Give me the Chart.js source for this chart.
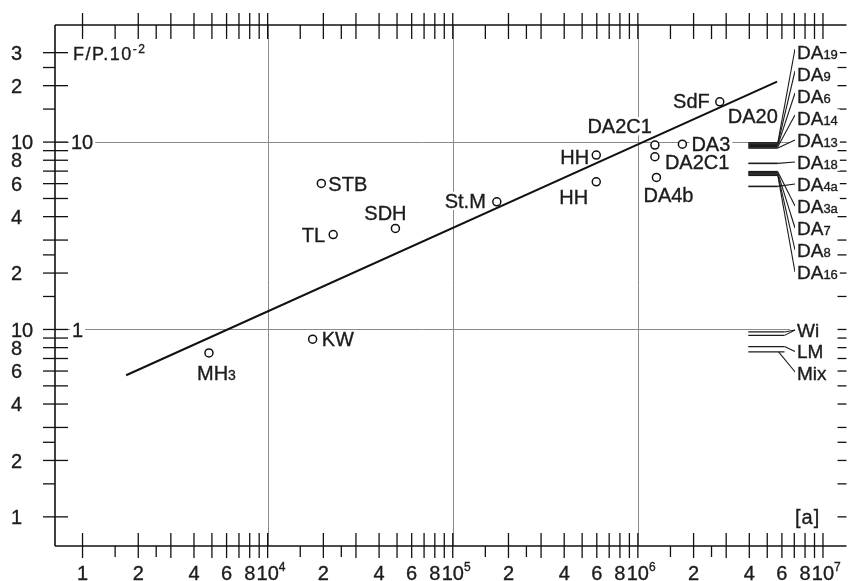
<!DOCTYPE html>
<html><head><meta charset="utf-8">
<script src="https://cdn.jsdelivr.net/npm/chart.js@4/dist/chart.umd.min.js"></script>
<style>html,body{margin:0;padding:0;background:#fff;overflow:hidden}#wrap{width:852px;height:581px;position:relative}</style>
</head><body><div id="wrap"><canvas id="c" width="852" height="581" style="width:852px;height:581px"></canvas></div>
<script>
// ---------------- DATA ----------------
const pointNames = ["MH3","KW","TL","SDH","STB","St.M","HH","HH","DA2C1","DA2C1","DA3","DA4b","SdF"];
const pointX = [4820, 17500, 22600, 49000, 19500, 173000, 596000, 596000, 1236000, 1236000, 1740000, 1260000, 2770000];
const pointY = [0.75, 0.887, 3.21, 3.46, 6.02, 4.80, 8.52, 6.14, 9.64, 8.35, 9.75, 6.48, 16.4];
const fitX = [1720, 5650000];
const fitY = [0.57, 21.0];
const markNames = ["DA20","DA19","DA9","DA6","DA14","DA13","DA18","DA4a","DA3a","DA7","DA8","DA16","Wi","Wi","LM","Mix"];
const markValues = [12.5, 9.9, 9.75, 9.6, 9.45, 9.3, 7.7, 5.8, 6.95, 6.85, 6.75, 6.65, 0.97, 0.93, 0.81, 0.76];
const yMajorTicks = [30,20,10,9,8,7,6,5,4,3,2,1,0.9,0.8,0.7,0.6,0.5,0.4,0.3,0.2,0.1];
const yMinorTicks = [25,15,2.5,1.5,0.25,0.15];
const yTickValues = [30,20,10,8,6,4,2,1,0.8,0.6,0.4,0.2,0.1];
const yTickLabels = ["3","2","10","8","6","4","2","10","8","6","4","2","1"];
const xMajorTicks = [1e3,2e3,3e3,4e3,5e3,6e3,7e3,8e3,9e3,
  1e4,2e4,3e4,4e4,5e4,6e4,7e4,8e4,9e4,
  1e5,2e5,3e5,4e5,5e5,6e5,7e5,8e5,9e5,
  1e6,2e6,3e6,4e6,5e6,6e6,7e6,8e6,9e6,1e7];
const xMinorTicks = [1.5e3,2.5e3,1.5e4,2.5e4,1.5e5,2.5e5,1.5e6,2.5e6];
const xTickValues = [1e3,2e3,4e3,6e3,8e3,1e4,2e4,4e4,6e4,8e4,1e5,2e5,4e5,6e5,8e5,1e6,2e6,4e6,6e6,8e6,1e7];
const xTickLabels = ["1","2","4","6","8","10^4","2","4","6","8","10^5","2","4","6","8","10^6","2","4","6","8","10^7"];

// ---------------- LAYOUT / STYLE ----------------
const TEXT = '#1c1c1c';
const FAM = '"Liberation Sans","Arial",sans-serif';
function font(sz){ return sz + 'px ' + FAM; }
// label placement relative to each point: [align, dx, dy]
const pointLabelPlace = [['left',-12,20],['left',9,0],['right',-8,0],['center',-10,-16],['left',7,0],
  ['right',-11,-1],['right',-7,2],['right',-8,15],['right',-3,-19],['left',10,5],['left',9,0],['left',-13,17],['right',-10,-1]];

function partsFor(name, sub){
  if (name === 'MH3') return [['MH',20],['3',14]];
  if (sub && name.startsWith('DA')) return [['DA',19],[name.slice(2),13]];
  if (sub) return [[name,19]];
  return [[name,20]];
}
function richWidth(ctx, parts, ls){ let w=0; for(const p of parts){ctx.font=font(p[1]); ctx.letterSpacing=(ls||0)+'px'; w+=ctx.measureText(p[0]).width;} ctx.letterSpacing='0px'; return w; }
function drawRich(ctx, parts, x, cy, align, mask, ls){
  const w = richWidth(ctx, parts, ls);
  const x0 = align==='left'? x : align==='right'? x-w : x-w/2;
  const s = parts[0][1];
  const base = cy + s*0.36;
  if (mask){ ctx.fillStyle='#fff'; ctx.fillRect(x0-2, cy - s*0.46, w+4, s*0.92); }
  ctx.fillStyle = TEXT; ctx.strokeStyle = TEXT; ctx.lineWidth = 0.35;
  ctx.textBaseline='alphabetic'; ctx.textAlign='left';
  let xx = x0;
  for (const p of parts){
    ctx.font=font(p[1]); ctx.letterSpacing=(ls||0)+'px';
    ctx.fillText(p[0], xx, base + (p[2]||0)); ctx.strokeText(p[0], xx, base + (p[2]||0));
    xx += ctx.measureText(p[0]).width;
  }
  ctx.letterSpacing='0px';
  return w;
}
function line(ctx,x1,y1,x2,y2){ ctx.beginPath(); ctx.moveTo(x1,y1); ctx.lineTo(x2,y2); ctx.stroke(); }

const framePlugin = {
  id:'frame',
  beforeDatasetsDraw(chart){
    const ctx = chart.ctx, xs = chart.scales.x, ys = chart.scales.y, a = chart.chartArea;
    ctx.save();
    ctx.lineCap='butt';
    // grid lines
    ctx.strokeStyle='#8a8a8a'; ctx.lineWidth=1;
    for (const v of [1e4,1e5,1e6]){ const x=Math.round(xs.getPixelForValue(v))+0.5; line(ctx,x,a.top,x,a.bottom); }
    for (const v of [10,1]){ const y=Math.round(ys.getPixelForValue(v))+0.5; line(ctx,a.left,y,790,y); }
    // axes
    ctx.strokeStyle='#111'; ctx.lineWidth=1.6;
    line(ctx,a.left,a.top,a.left,a.bottom);
    line(ctx,a.left,a.top,a.right,a.top);
    line(ctx,a.left,a.bottom,a.right,a.bottom);
    // ticks
    ctx.lineWidth=1.3;
    for (const v of yMajorTicks){ const y=ys.getPixelForValue(v); line(ctx,a.left-12,y,a.left+13,y); line(ctx,a.right-9,y,a.right,y); }
    for (const v of yMinorTicks){ const y=ys.getPixelForValue(v); line(ctx,a.left-12,y,a.left,y); line(ctx,a.right-9,y,a.right,y); }
    for (const v of xMajorTicks){ const x=xs.getPixelForValue(v); line(ctx,x,a.top-12,x,a.top+14); line(ctx,x,a.bottom-13,x,a.bottom+12); }
    for (const v of xMinorTicks){ const x=xs.getPixelForValue(v); line(ctx,x,a.top,x,a.top+14); line(ctx,x,a.bottom,x,a.bottom+11); }
    // tick labels
    yTickValues.forEach((v,i)=>{ drawRich(ctx,[[yTickLabels[i],20]],11,ys.getPixelForValue(v),'left',false); });
    xTickValues.forEach((v,i)=>{
      const t = xTickLabels[i], x = xs.getPixelForValue(v);
      if (t.indexOf('^')>=0){
        const [m,e] = t.split('^');
        ctx.font=font(20); const w=ctx.measureText(m).width;
        drawRich(ctx,[[m,20],[e,12,-9]],x-w/2,573,'left',false);
      } else drawRich(ctx,[[t,20]],x,573,'center',false);
    });
    // inner labels
    drawRich(ctx,[['10',20]],71,ys.getPixelForValue(10),'left',true);
    drawRich(ctx,[['1',20]],72,ys.getPixelForValue(1),'left',true);
    drawRich(ctx,[['F/P.10',18],['-2',12,-7]],73,54,'left',true,1.5);
    drawRich(ctx,[['[a]',20]],795,ys.getPixelForValue(0.1),'left',false,1);

    // point labels
    pointNames.forEach((n,i)=>{
      const px=xs.getPixelForValue(pointX[i]), py=ys.getPixelForValue(pointY[i]);
      const p=pointLabelPlace[i];
      drawRich(ctx,partsFor(n,false),px+p[1],py+p[2],p[0],true);
    });

    // right-hand marks with leaders
    const bx0 = xs.getPixelForValue(3.95e6), bx1 = xs.getPixelForValue(5.7e6), bx2 = xs.getPixelForValue(6.2e6);
    const labX = 797;
    const slotY = {};
    ['DA19','DA9','DA6','DA14','DA13','DA18','DA4a','DA3a','DA7','DA8','DA16'].forEach((n,k)=>slotY[n]=52+22*k);
    ['Wi','LM','Mix'].forEach((n,k)=>slotY[n]=330+21.5*k);
    const drawn = {};
    markNames.forEach((n,i)=>{
      const y = ys.getPixelForValue(markValues[i]);
      ctx.strokeStyle='#1a1a1a';
      if (n==='DA20'){
        ctx.lineWidth=1.2;
        line(ctx,bx0,y,bx1,y);
        drawRich(ctx,[['DA20',20]],bx1,y-8,'right',true);
        return;
      }
      const wide = (n==='Wi'||n==='LM'||n==='Mix');
      const xe = wide? bx2 : bx1;
      ctx.strokeStyle='#1a1a1a';
      ctx.lineWidth = wide?1.2:1.6;
      line(ctx,bx0,y,xe,y);
      ctx.lineWidth=1.1;
      if (n==='Mix'){ line(ctx,xe-6,y,labX-1,slotY[n]); }
      else line(ctx,xe,y,labX-2,slotY[n]-(slotY[n]<y-8?3:0));
      if (!drawn[n]){ drawn[n]=1; drawRich(ctx,partsFor(n,true),labX,slotY[n],'left',true); }
    });
    ctx.restore();
  }
};

new Chart(document.getElementById('c'), {
  type:'scatter',
  data:{ datasets:[
    { data: fitX.map((x,i)=>({x, y: fitY[i]})), showLine:true, borderColor:'#111', borderWidth:2, pointRadius:0, fill:false },
    { data: pointX.map((x,i)=>({x, y: pointY[i]})), showLine:false, pointRadius:4, pointBackgroundColor:'#fff', pointBorderColor:'#111', pointBorderWidth:1.5 }
  ]},
  options:{
    responsive:false, animation:false, devicePixelRatio:1,
    layout:{ padding:{ left:55, top:25, right:0, bottom:35 } },
    plugins:{ legend:{display:false}, tooltip:{enabled:false} },
    scales:{
      x:{ type:'logarithmic', min:710, max:1.34e7, display:false },
      y:{ type:'logarithmic', min:0.0699, max:42.15, display:false }
    }
  },
  plugins:[framePlugin]
});
</script>
</body></html>
